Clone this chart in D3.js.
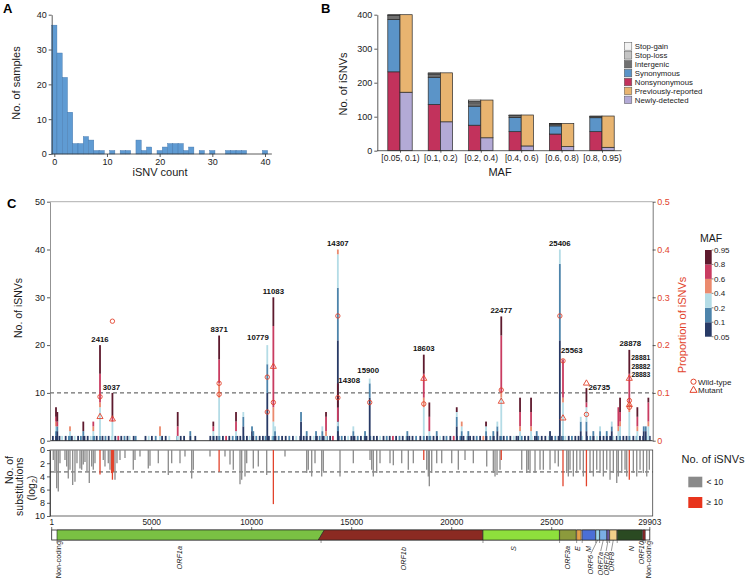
<!DOCTYPE html>
<html><head><meta charset="utf-8">
<script src="https://cdn.jsdelivr.net/npm/d3@7"></script>
<style>
body{margin:0;background:#fff;}
svg{font-family:"Liberation Sans",Arial,Helvetica,sans-serif;}
</style></head><body>
<svg id="c" width="748" height="582"></svg>
<script>
// ---------------- DATA ----------------
// Panel A: histogram of iSNV counts per sample
const histBins = [0,1,2,3,4,5,6,7,8,9,10,11,12,13,14,15,16,17,18,19,20,21,22,23,24,25,26,27,28,29,30,31,32,33,34,35,36,37,38,39,40];
const histCounts = [37,29,22,12,3,3,5,4,1,1,0,1,0,1,1,0,4,1,2,0,1,2,3,3,3,1,2,0,1,0,1,0,0,1,1,1,1,0,0,0,1];
const histTicks = [0,10,20,30,40];

// Panel B: iSNVs per MAF class
const mafClasses = ["[0.05, 0.1)","[0.1, 0.2)","[0.2, 0.4)","[0.4, 0.6)","[0.6, 0.8)","[0.8, 0.95)"];
const nonsynonymous = [232,136,75,56,49,56];
const synonymous = [154,80,56,42,24,41];
const intergenic = [12,8,10,5,5,3];
const stopLoss = [1,3,4,1,1,1];
const stopGain = [1,2,4,1,1,1];
const newlyDetected = [172,85,38,14,12,10];
const previouslyReported = [228,144,111,91,68,92];
const bTicks = [0,100,200,300,400];

// Panel C: sites with stacked iSNV counts per MAF bin [pos, b0.05, b0.1, b0.2, b0.4, b0.6, b0.8]
const mafBinEdges = ["0.05","0.1","0.2","0.4","0.6","0.8","0.95"];
const multiSites = [
 [216,1,1,1,1,1,2],[282,2,1,0,0,1,2],[916,0,1,1,1,0,0],[1581,1,1,0,0,0,2],[2081,0,1,1,1,1,0],
 [2416,0,1,6,1,6,6],[3037,0,0,4,0,1,5],[5416,0,0,1,2,0,0],[6301,0,0,1,0,2,3],[6930,1,1,0,0,0,0],
 [8081,1,0,1,0,1,1],[8371,0,1,8,3,5,5],[9216,0,1,1,0,2,2],[9581,3,2,1,0,0,0],[10016,2,1,0,0,0,0],
 [10080,1,1,0,0,0,0],[10779,10,6,4,0,0,0],[11083,0,1,3,3,17,6],[11166,1,1,1,0,0,0],[12466,4,2,0,0,0,0],
 [12750,1,1,0,0,0,0],[13216,1,1,0,0,0,0],[13531,1,1,1,0,0,0],[13716,0,0,1,1,3,1],[14307,21,11,7,1,0,0],
 [14308,2,1,1,0,3,5],[15081,1,1,1,0,0,0],[15666,1,1,0,0,0,0],[15900,9,3,1,0,0,0],[17781,1,1,0,0,0,0],
 [18603,0,1,6,2,5,4],[18881,0,1,1,0,3,3],[19250,1,1,0,0,0,0],[20251,3,2,1,0,0,1],[20500,1,1,1,1,0,0],
 [20830,1,1,0,0,0,0],[21716,1,1,1,0,0,1],[22080,1,1,0,0,0,0],[22281,2,1,1,0,0,0],[22477,0,1,8,1,12,4],
 [23416,0,0,2,1,3,3],[23966,0,0,2,1,3,3],[24250,1,1,0,0,0,0],[24915,2,0,0,0,0,0],[25406,21,16,3,0,0,0],
 [25563,0,1,7,1,8,0],[26451,2,2,1,0,0,0],[26735,2,2,3,0,1,3],[27080,1,1,0,0,0,0],[27416,1,1,1,0,0,0],
 [27750,1,1,0,0,0,0],[28001,2,1,1,0,0,0],[28331,0,0,2,1,4,0],[28416,0,1,2,1,2,3],[28878,0,1,5,2,6,5],
 [29281,0,0,2,1,2,2],[29600,2,1,0,0,0,0],[29700,2,1,0,0,0,0],[29831,0,0,3,1,4,1]
];
// single iSNV sites [pos, MAF bin index]
const singleSites = [
 [60,0],[240,1],[390,0],[520,2],[700,0],[860,1],[1010,0],[1150,2],[1320,0],[1460,1],[1640,0],[1800,0],[1950,2],[2120,1],[2250,0],
 [2540,0],[2690,1],[2850,0],[3000,2],[3180,0],[3330,4],[3480,0],[3640,1],[3790,0],[3900,2],
 [4100,0],[4200,1],[4690,0],[4850,2],[5010,0],[5200,1],[5520,0],[5700,0],[5880,2],[6280,1],[6450,0],[6620,0],[6950,2],[7180,0],
 [7930,0],[8100,1],[8250,0],[8420,2],[8560,0],[8720,4],[8880,0],[9050,1],
 [9280,0],[9430,0],[9600,1],[9760,0],[9900,2],[10060,0],[10230,1],[10400,0],[10560,0],
 [10690,1],[10860,0],[11020,2],[11190,0],[11350,1],[11520,0],[11700,0],[11880,1],[12060,0],[12230,2],
 [12430,0],[12600,0],[12740,1],[12930,0],[13100,2],[13260,0],[13400,1],[13600,0],[13760,1],[13920,0],[14060,4],
 [14350,0],[14500,1],[14660,0],[14820,2],[14980,0],[15140,0],[15300,1],[15460,0],[15620,2],[15740,0],
 [15930,1],[16100,0],[16260,0],[16420,2],[16590,0],[16750,1],[16900,0],[17060,4],[17220,0],[17390,1],[17550,0],[17720,2],[17880,0],[18040,0],[18220,1],
 [18430,0],[18600,2],[18760,0],[18930,1],[19090,0],[19260,0],[19420,2],[19590,0],[19740,1],
 [19930,0],[20100,4],[20260,0],[20430,1],[20590,0],[20760,2],[20920,0],[21090,0],[21250,1],[21420,0],[21580,3],[21740,0],
 [21930,1],[22100,0],[22260,2],[22430,0],[22600,0],[22760,1],[22930,0],[23100,2],[23240,0],
 [23330,0],[23500,1],[23660,0],[23830,0],[24000,2],[24160,0],[24330,1],[24500,0],
 [24680,0],[24850,2],[25010,0],[25180,1],[25340,0],[25520,0],[25680,2],[25850,0],[26010,1],[26180,0],[26340,0],[26520,2],
 [26760,0],[26930,1],[27090,0],[27260,2],[27420,0],[27590,0],[27750,1],[27920,0],[28080,2],[28250,0],[28410,1],[28580,0],[28740,0],[28910,2],[29080,0],[29240,1],[29410,0],[29570,0],[29740,2],[29900,0]
];
// proportion markers [pos, proportion, type]
const markers = [
 [2416,0.092,"wt"],[2416,0.05,"mut"],[3037,0.25,"wt"],[3037,0.045,"mut"],
 [8371,0.12,"wt"],[8371,0.097,"wt"],[10779,0.133,"wt"],[10779,0.06,"wt"],
 [11083,0.155,"mut"],[11083,0.08,"wt"],[14307,0.261,"wt"],[14308,0.09,"wt"],[15900,0.08,"wt"],
 [18603,0.13,"mut"],[18603,0.077,"wt"],[22477,0.106,"wt"],[22477,0.082,"mut"],
 [25406,0.261,"wt"],[25563,0.167,"wt"],[25563,0.047,"mut"],[26735,0.12,"mut"],[26735,0.055,"wt"],
 [28878,0.13,"mut"],[28881,0.084,"wt"],[28882,0.075,"mut"],[28883,0.07,"wt"]
];
// labelled sites [label, pos, count level]
const siteLabels = [
 ["2416",2416,20],["3037",3037,10],["8371",8371,22],["10779",10779,20],["11083",11083,30],
 ["14307",14307,40],["14308",14308,12.1],["15900",15900,13.5],["18603",18603,18],["22477",22477,26],
 ["25406",25406,40],["25563",25563,17.6],["26735",26735,11],["28878",28878,19],
 ["28881",28881,16.8],["28882",28882,15.1],["28883",28883,13.4]
];
// substitutions (log2) [pos, value, >=10 iSNVs]
const substitutions = [
 [80,1.5,0],[165,3.5,0],[250,5.8,0],[330,6.3,0],[415,2.0,0],[665,1.5,0],[750,2.5,0],[830,4.3,0],[915,3.0,0],[1050,5.3,0],
 [1165,4.8,0],[1265,2.0,0],[1415,2.8,0],[1500,3.0,0],[1580,2.2,0],[1665,1.8,0],[1765,3.2,0],[1880,5.0,0],[2000,2.5,0],[2080,3.0,0],
 [2165,2.0,0],[2416,3.7,1],[2580,1.5,0],[2665,2.5,0],[2830,2.0,0],[2915,3.0,0],[2990,3.5,1],[3037,4.5,1],[3090,3.3,1],[3165,4.5,0],
 [3265,2.0,0],[3415,1.5,0],[3665,1.2,0],[4080,3.0,0],[4165,1.5,0],[4415,1.0,0],[4830,2.8,0],[4915,2.4,0],[5330,2.0,0],[5830,3.8,0],
 [6000,2.0,0],[6415,2.0,0],[6665,1.0,0],[7000,4.3,0],[7080,3.0,0],[7915,1.0,0],[8371,3.3,1],[8665,1.0,0],[8915,2.2,0],[9080,3.0,0],
 [9415,5.2,0],[9500,4.5,0],[9665,4.0,0],[9750,2.0,0],[10080,2.8,0],[10330,2.5,0],[10750,3.8,0],[11083,8.2,1],[11665,1.0,0],[12750,3.5,0],
 [12830,3.0,0],[13000,4.0,0],[13165,2.0,0],[13500,4.0,0],[13580,3.2,0],[14415,4.0,0],[15080,2.0,0],[15915,1.5,0],[16000,3.0,0],[16080,4.0,0],
 [16250,3.5,0],[16415,2.0,0],[16915,2.0,0],[17080,2.3,0],[17500,2.0,0],[17830,3.0,0],[18080,2.0,0],[18603,1.5,1],[18750,3.0,0],[18830,4.0,0],
 [18880,5.5,0],[19000,3.5,0],[19250,2.0,0],[19500,2.0,0],[20000,2.0,0],[20330,3.0,0],[20665,1.5,0],[21080,2.0,0],[21750,2.5,0],[22080,3.5,0],
 [22165,4.0,0],[22265,3.8,0],[22415,3.0,0],[22477,1.5,1],[23500,3.0,0],[23750,3.5,0],[23830,3.0,0],[23915,3.5,0],[24165,3.5,0],[24415,3.0,0],
 [24580,3.0,0],[24915,3.0,0],[25165,2.0,0],[25330,2.5,0],[25563,5.5,1],[25750,3.5,0],[25830,4.0,0],[25915,3.0,0],[26080,4.0,0],[26250,3.5,0],
 [26415,3.0,0],[26580,4.0,0],[26735,5.5,1],[26915,3.5,0],[27080,4.0,0],[27250,3.0,0],[27415,3.5,0],[27580,4.0,0],[27750,3.0,0],[27915,4.5,0],
 [28080,3.5,0],[28250,5.0,0],[28330,4.0,0],[28500,3.5,0],[28665,3.0,0],[28750,4.0,0],[28878,4.5,1],[29080,3.5,0],[29250,4.0,0],[29415,3.0,0],
 [29580,3.5,0],[29750,4.0,0],[29880,3.0,0]
];
const genomeTicks = [1,5000,10000,15000,20000,25000,29903];
const geneNames = ["Non-coding","ORF1a","ORF1b","S","ORF3a","E","M","ORF6","ORF7a","ORF7b","ORF8","N","ORF10","Non-coding"];
const geneStart = [1,266,13468,21563,25393,26245,26523,27202,27394,27756,27894,28274,29558,29675];
const geneEnd = [265,13483,21555,25384,26220,26472,27191,27387,27759,27887,28259,29533,29674,29903];
const geneLabelPos = [350,6400,17600,23085,25800,26300,26830,26950,27450,27720,27980,28990,29490,29820];

// ---------------- STYLE ----------------
const TXT = "#1a1a1a";
const mafColors = ["#283a66","#4d84ab","#b4dce6","#eb8a6e","#c93c61","#5e1a2e"];
const funcKeys = ["Stop-gain","Stop-loss","Intergenic","Synonymous","Nonsynonymous","Previously-reported","Newly-detected"];
const funcColors = {"Stop-gain":"#f2f2f2","Stop-loss":"#c4c4c4","Intergenic":"#707070","Synonymous":"#5b94c8","Nonsynonymous":"#c2325c","Previously-reported":"#e8b470","Newly-detected":"#b3aad6"};
const geneColors = ["#ffffff","#7ac143","#8b2a22","#8ee03c","#8c9a3c","#e3a04a","#4b6fd6","#9fd6e8","#7aaee6","#6b5ba8","#f2d08a","#2a4a22","#9a2a2a","#ffffff"];
const RED = "#e2432c";

const svg = d3.select("#c");
function styleAxis(g, fs, col){
  g.attr("font-family", null).attr("font-size", null);
  g.selectAll("text").attr("font-size", fs).attr("fill", col || TXT);
  g.selectAll(".tick line").attr("stroke", "#333").attr("stroke-width",0.8);
  g.select(".domain").attr("stroke", "#333").attr("stroke-width",0.8);
}
function panelLabel(t,x,y){ svg.append("text").attr("x",x).attr("y",y).attr("font-size",13).attr("font-weight","bold").attr("fill","#000").text(t); }

// ---------------- PANEL A ----------------
panelLabel("A",3,13);
const ax = d3.scaleLinear().domain([0,40]).range([54.3,265]);
const ay = d3.scaleLinear().domain([0,40]).range([154,14.7]);
const hdata = histBins.map((b,i)=>({b, c:histCounts[i]})).filter(d=>d.c>0);
svg.append("g").selectAll("rect").data(hdata).join("rect")
  .attr("x",d=>ax(d.b-0.5)).attr("width",ax(1)-ax(0))
  .attr("y",d=>ay(d.c)).attr("height",d=>ay(0)-ay(d.c))
  .attr("fill","#5f9bd3").attr("stroke","#3f72a8").attr("stroke-width",0.4);
const gAy = svg.append("g").attr("transform","translate(51.7,0)")
  .call(d3.axisLeft(ay).tickValues(histTicks).tickSize(3).tickPadding(2).tickSizeOuter(0));
styleAxis(gAy,9);
const gAx = svg.append("g").attr("transform","translate(0,154)")
  .call(d3.axisBottom(ax).tickValues(histTicks).tickSize(3).tickPadding(1.5).tickSizeOuter(0));
styleAxis(gAx,9);
gAx.select(".domain").attr("d",`M${ax(-0.5)},0H${ax(41.3)}`);
svg.append("text").attr("transform","translate(20,83) rotate(-90)").attr("text-anchor","middle")
  .attr("font-size",11).attr("fill",TXT).text("No. of samples");
svg.append("text").attr("x",160).attr("y",176).attr("text-anchor","middle").attr("font-size",11).attr("fill",TXT).text("iSNV count");

// ---------------- PANEL B ----------------
panelLabel("B",321,13);
const bx = d3.scalePoint().domain(mafClasses).range([400,602]);
const by = d3.scaleLinear().domain([0,400]).range([150.7,14.7]);
const bw = 12.2;
const leftSeries = {"Nonsynonymous":nonsynonymous,"Synonymous":synonymous,"Intergenic":intergenic,"Stop-loss":stopLoss,"Stop-gain":stopGain};
const rightSeries = {"Newly-detected":newlyDetected,"Previously-reported":previouslyReported};
const gB = svg.append("g");
mafClasses.forEach((m,i)=>{
  let cum=0;
  Object.keys(leftSeries).forEach(k=>{
    const v = leftSeries[k][i];
    gB.append("rect").attr("x",bx(m)-bw).attr("width",bw).attr("y",by(cum+v)).attr("height",by(cum)-by(cum+v))
      .attr("fill",funcColors[k]).attr("stroke","#2a2a2a").attr("stroke-width",0.7);
    cum+=v;
  });
  cum=0;
  Object.keys(rightSeries).forEach(k=>{
    const v = rightSeries[k][i];
    gB.append("rect").attr("x",bx(m)).attr("width",bw).attr("y",by(cum+v)).attr("height",by(cum)-by(cum+v))
      .attr("fill",funcColors[k]).attr("stroke","#2a2a2a").attr("stroke-width",0.7);
    cum+=v;
  });
});
const gBy = svg.append("g").attr("transform","translate(377.3,0)")
  .call(d3.axisLeft(by).tickValues(bTicks).tickSize(3).tickPadding(2).tickSizeOuter(0));
styleAxis(gBy,9);
const gBx = svg.append("g").attr("transform","translate(0,150.7)")
  .call(d3.axisBottom(bx).tickSize(2).tickPadding(2).tickSizeOuter(0));
styleAxis(gBx,8.5);
gBx.select(".domain").attr("d","M377.3,0H621.7");
svg.append("text").attr("transform","translate(347,84) rotate(-90)").attr("text-anchor","middle")
  .attr("font-size",11).attr("fill",TXT).text("No. of iSNVs");
svg.append("text").attr("x",500).attr("y",176).attr("text-anchor","middle").attr("font-size",11).attr("fill",TXT).text("MAF");
const gBL = svg.append("g").attr("transform","translate(624.3,42.7)");
funcKeys.forEach((k,i)=>{
  gBL.append("rect").attr("x",0).attr("y",i*8.9).attr("width",7.5).attr("height",7.5)
    .attr("fill",funcColors[k]).attr("stroke","#555").attr("stroke-width",0.5);
  gBL.append("text").attr("x",10.5).attr("y",i*8.9+6.5).attr("font-size",7.8).attr("fill",TXT).text(k);
});

// ---------------- PANEL C ----------------
panelLabel("C",7,208);
const mx = d3.scaleLinear().domain([1,29903]).range([51.7,649.8]);
const my = d3.scaleLinear().domain([0,50]).range([440.7,201.7]);
const mp = d3.scaleLinear().domain([0,0.5]).range([440.7,201.7]);
const ly = d3.scaleLinear().domain([0,10]).range([450,516]);
const L=50, R=652.7;
svg.append("line").attr("x1",L).attr("x2",R).attr("y1",my(50)).attr("y2",my(50)).attr("stroke","#999").attr("stroke-width",0.8);
svg.append("line").attr("x1",L).attr("x2",R).attr("y1",my(10)).attr("y2",my(10))
  .attr("stroke","#333").attr("stroke-width",0.9).attr("stroke-dasharray","4,3");
const gS = svg.append("g");
gS.selectAll("rect").data(singleSites).join("rect")
  .attr("x",d=>mx(d[0])-0.9).attr("width",1.8).attr("y",my(1)).attr("height",my(0)-my(1))
  .attr("fill",d=>mafColors[d[1]]);
const gM = svg.append("g");
multiSites.forEach(s=>{
  let cum=0;
  for(let k=0;k<6;k++){
    const v=s[k+1]; if(!v) continue;
    gM.append("rect").attr("x",mx(s[0])-0.9).attr("width",1.8)
      .attr("y",my(cum+v)).attr("height",my(cum)-my(cum+v)).attr("fill",mafColors[k]);
    cum+=v;
  }
});
svg.append("line").attr("x1",L).attr("x2",R).attr("y1",my(0)).attr("y2",my(0)).attr("stroke","#222").attr("stroke-width",0.9);
const gK = svg.append("g");
markers.forEach(m=>{
  if(m[2]==="wt"){
    gK.append("circle").attr("cx",mx(m[0])).attr("cy",mp(m[1])).attr("r",2.2)
      .attr("fill","none").attr("stroke",RED).attr("stroke-width",0.9);
  } else {
    gK.append("path").attr("d",d3.symbol(d3.symbolTriangle).size(16)())
      .attr("transform",`translate(${mx(m[0])},${mp(m[1])})`)
      .attr("fill","none").attr("stroke",RED).attr("stroke-width",0.9);
  }
});
const labelLayout = {
  "10779":{a:"end",dx:1.5,dy:-5},"14308":{a:"start",dx:0.5,dy:0},"3037":{a:"middle",dx:-1,dy:-2.5},
  "25563":{a:"start",dx:-2,dy:-4},"26735":{a:"start",dx:2,dy:1.5},"15900":{a:"middle",dx:-1.5,dy:-3.5},
  "28881":{a:"start",dx:2,dy:0,fs:6.8},"28882":{a:"start",dx:2,dy:0,fs:6.8},"28883":{a:"start",dx:2,dy:0,fs:6.8},"28878":{a:"middle",dx:1,dy:-4}
};
const gT = svg.append("g");
siteLabels.forEach(l=>{
  const o = labelLayout[l[0]] || {a:"middle",dx:0,dy:-3.5};
  gT.append("text").attr("x",mx(l[1])+o.dx).attr("y",my(l[2])+o.dy).attr("text-anchor",o.a)
    .attr("font-size",o.fs||7.8).attr("font-weight","bold").attr("fill","#111").text(l[0]);
});
const gMy = svg.append("g").attr("transform",`translate(${L},0)`)
  .call(d3.axisLeft(my).tickValues([0,10,20,30,40,50]).tickSize(3).tickPadding(2).tickSizeOuter(0));
styleAxis(gMy,9); gMy.select(".domain").attr("stroke","#777");
const gMp = svg.append("g").attr("transform",`translate(${R},0)`)
  .call(d3.axisRight(mp).tickValues([0,0.1,0.2,0.3,0.4,0.5]).tickFormat(d=>d===0?"0":d3.format(".1f")(d)).tickSize(3).tickPadding(1.5).tickSizeOuter(0));
styleAxis(gMp,9,RED); gMp.select(".domain").attr("stroke","#555");
svg.append("text").attr("transform","translate(22,308) rotate(-90)").attr("text-anchor","middle")
  .attr("font-size",10.5).attr("fill",TXT).text("No. of iSNVs");
svg.append("text").attr("transform","translate(686,325) rotate(-90)").attr("text-anchor","middle")
  .attr("font-size",11).attr("fill",RED).text("Proportion of iSNVs");

// lower panel
svg.append("rect").attr("x",L).attr("y",ly(0)).attr("width",R-L).attr("height",ly(10)-ly(0))
  .attr("fill","none").attr("stroke","#444").attr("stroke-width",0.8);
svg.append("line").attr("x1",L).attr("x2",R).attr("y1",ly(Math.log2(10))).attr("y2",ly(Math.log2(10)))
  .attr("stroke","#333").attr("stroke-width",0.9).attr("stroke-dasharray","4,3");
const gSub = svg.append("g");
const subs = substitutions.slice().sort((a,b)=>a[2]-b[2]);
gSub.selectAll("line").data(subs).join("line")
  .attr("x1",d=>mx(d[0])).attr("x2",d=>mx(d[0])).attr("y1",ly(0)).attr("y2",d=>ly(d[1]))
  .attr("stroke",d=>d[2]?RED:"#8a8a8a").attr("stroke-width",1.3);
const gLy = svg.append("g").attr("transform",`translate(${L},0)`)
  .call(d3.axisLeft(ly).tickValues([0,2,4,6,8,10]).tickSize(3).tickPadding(2).tickSizeOuter(0));
styleAxis(gLy,9);
const subT = svg.append("g").attr("font-size",10.5).attr("fill",TXT).attr("text-anchor","middle");
subT.append("text").attr("transform","translate(9.5,470) rotate(-90)").attr("dy","0.35em").text("No. of");
subT.append("text").attr("transform","translate(19.5,486.7) rotate(-90)").attr("dy","0.35em").text("substitutions");
const lg = subT.append("text").attr("transform","translate(31,488) rotate(-90)").attr("dy","0.35em");
lg.append("tspan").text("(log");
lg.append("tspan").attr("font-size",7.5).attr("dy","2.5").text("2");
lg.append("tspan").attr("dy","-2.5").text(")");

// genome axis
const gG = svg.append("g");
genomeTicks.forEach(t=>{
  gG.append("text").attr("x",mx(t)).attr("y",525).attr("text-anchor","middle").attr("font-size",8.3).attr("fill",TXT).text(t);
  gG.append("line").attr("x1",mx(t)).attr("x2",mx(t)).attr("y1",527).attr("y2",530).attr("stroke","#333").attr("stroke-width",0.7);
});
const GY0=530, GY1=540;
gG.append("rect").attr("x",mx(1)).attr("y",GY0).attr("width",mx(29903)-mx(1)).attr("height",GY1-GY0)
  .attr("fill","#fff").attr("stroke","#222").attr("stroke-width",0.8);
geneNames.forEach((g,i)=>{
  if(i===0||i===13) return;
  let x0=mx(geneStart[i]), x1=mx(geneEnd[i]);
  let d;
  if(g==="ORF1a"){ d=`M${x0},${GY0}H${x1+3}L${x1-3},${GY1}H${x0}Z`; }
  else if(g==="ORF1b"){ d=`M${x0+3.3},${GY0}H${x1}V${GY1}H${x0-2.7}Z`; }
  else d=`M${x0},${GY0}H${x1}V${GY1}H${x0}Z`;
  gG.append("path").attr("d",d).attr("fill",geneColors[i]).attr("stroke","#222").attr("stroke-width",0.6);
});
const geneLabelTop = [541,546,547,546,546,546,546,555,552,552,552,546,541,541];
geneNames.forEach((g,i)=>{
  const gx = mx((geneStart[i]+geneEnd[i])/2);
  const lx = mx(geneLabelPos[i]);
  const top = geneLabelTop[i];
  if((i>=7 && i<=10) || (i>=12 && Math.abs(gx-lx)>1.5)){
    gG.append("line").attr("x1",gx).attr("y1",GY1).attr("x2",lx).attr("y2",top-1).attr("stroke","#333").attr("stroke-width",0.5);
  }
  gG.append("text").attr("transform",`translate(${lx},${top}) rotate(-90)`).attr("dy","0.35em")
    .attr("text-anchor","end").attr("font-size",7.3).attr("font-style",g==="Non-coding"?"normal":"italic")
    .attr("fill",TXT).text(g);
});
geneStart.forEach((s,i)=>{ if(i===0) return;
  gG.append("line").attr("x1",mx(s)).attr("x2",mx(s)).attr("y1",GY1).attr("y2",GY1+3).attr("stroke","#333").attr("stroke-width",0.5);
});

// ---------------- LEGENDS C ----------------
svg.append("text").attr("x",711).attr("y",242).attr("text-anchor","middle").attr("font-size",10.5).attr("fill",TXT).text("MAF");
const cbY = d3.scaleLinear().domain([0,6]).range([336.7,250]);
const gCB = svg.append("g");
mafColors.forEach((c,i)=>{
  gCB.append("rect").attr("x",705).attr("width",6.7).attr("y",cbY(i+1)).attr("height",cbY(i)-cbY(i+1)).attr("fill",c);
});
mafBinEdges.forEach((t,i)=>{
  gCB.append("line").attr("x1",711.7).attr("x2",713.5).attr("y1",cbY(i)).attr("y2",cbY(i)).attr("stroke","#333").attr("stroke-width",0.6);
  gCB.append("text").attr("x",714).attr("y",cbY(i)).attr("dy","0.35em").attr("font-size",8).attr("fill",TXT).text(t);
});
svg.append("circle").attr("cx",693.5).attr("cy",381.7).attr("r",2.6).attr("fill","none").attr("stroke",RED).attr("stroke-width",1);
svg.append("path").attr("d",d3.symbol(d3.symbolTriangle).size(22)()).attr("transform","translate(693.5,390.3)")
  .attr("fill","none").attr("stroke",RED).attr("stroke-width",1);
svg.append("text").attr("x",698).attr("y",381.7).attr("dy","0.35em").attr("font-size",8).attr("fill",TXT).text("Wild-type");
svg.append("text").attr("x",698).attr("y",390.3).attr("dy","0.35em").attr("font-size",8).attr("fill",TXT).text("Mutant");
svg.append("text").attr("x",681.5).attr("y",463).attr("font-size",11).attr("fill",TXT).text("No. of iSNVs");
svg.append("rect").attr("x",688.3).attr("y",476.7).attr("width",14).attr("height",10.6).attr("fill","#8a8a8a");
svg.append("rect").attr("x",688.3).attr("y",497).attr("width",14).attr("height",11).attr("fill","#e8341c");
svg.append("text").attr("x",706.5).attr("y",482).attr("dy","0.35em").attr("font-size",8.5).attr("fill",TXT).text("< 10");
svg.append("text").attr("x",706.5).attr("y",502.5).attr("dy","0.35em").attr("font-size",8.5).attr("fill",TXT).text("≥ 10");
</script>
</body></html>
